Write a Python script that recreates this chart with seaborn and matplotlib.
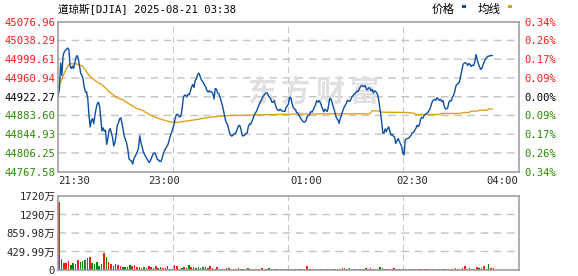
import numpy as np
import pandas as pd
import matplotlib
matplotlib.use("Agg")
import matplotlib.pyplot as plt
from matplotlib.patches import Rectangle
import seaborn as sns

# ---------------- data ----------------
title_text = "道琼斯[DJIA] 2025-08-21 03:38"
legend_labels = ["价格", "均线"]
watermark_chars = ["东", "方", "财", "富"]
prev_close = 44922.27
price_ticks = [45076.96, 45038.29, 44999.61, 44960.94, 44922.27,
               44883.60, 44844.93, 44806.25, 44767.58]
price_tick_labels = ["45076.96", "45038.29", "44999.61", "44960.94", "44922.27",
                     "44883.60", "44844.93", "44806.25", "44767.58"]
pct_labels = ["0.34%", "0.26%", "0.17%", "0.09%", "0.00%",
              "0.09%", "0.17%", "0.26%", "0.34%"]
vol_ticks = [0, 429.99, 859.98, 1290, 1720]
vol_tick_labels = ["0", "429.99万", "859.98万", "1290万", "1720万"]
time_tick_minutes = [0, 90, 210, 300, 390]
time_tick_labels = ["21:30", "23:00", "01:00", "02:30", "04:00"]
session_minutes = 390

# price, one value per minute from 21:30
price = [
    44925.67, 44939.24, 44992.16, 44966.38, 45005.73, 45014.55, 45017.94, 45019.97, 45022.69, 45019.29,
    44985.37, 44980.63, 44985.37, 44980.63, 44992.16, 45003.69, 45007.08, 45000.30, 44985.37, 44970.45,
    44966.38, 44958.24, 44941.28, 44931.78, 44932.46, 44917.53, 44883.61, 44859.87, 44873.44, 44876.83,
    44866.65, 44883.61, 44897.18, 44907.36, 44910.75, 44902.61, 44876.83, 44851.73, 44857.83, 44851.05,
    44853.09, 44823.91, 44836.13, 44853.09, 44856.48, 44846.98, 44837.48, 44820.52, 44827.99, 44842.91,
    44863.26, 44868.69, 44876.83, 44878.87, 44866.65, 44853.09, 44839.52, 44832.73, 44825.95, 44812.38,
    44793.39, 44791.35, 44789.99, 44783.21, 44793.39, 44798.81, 44803.56, 44808.99, 44817.13, 44841.55,
    44827.99, 44819.17, 44808.99, 44803.56, 44798.81, 44794.74, 44790.67, 44786.60, 44789.99, 44796.10,
    44802.21, 44806.28, 44805.60, 44799.49, 44792.03, 44792.03, 44788.64, 44788.64, 44795.42, 44804.92,
    44811.03, 44815.77, 44819.84, 44823.91, 44833.41, 44840.87, 44849.02, 44856.48, 44864.62, 44876.83,
    44884.97, 44886.33, 44882.94, 44880.22, 44883.61, 44898.54, 44920.93, 44925.67, 44925.00, 44921.60,
    44927.71, 44926.35, 44934.49, 44942.63, 44947.38, 44941.28, 44955.52, 44958.92, 44967.06, 44971.13,
    44965.70, 44958.24, 44954.17, 44950.78, 44946.03, 44941.96, 44934.49, 44931.78, 44934.49, 44931.78,
    44932.46, 44928.39, 44917.53, 44939.24, 44937.89, 44929.75, 44928.39, 44921.60, 44912.79, 44904.64,
    44893.79, 44881.58, 44870.72, 44866.65, 44859.87, 44848.34, 44842.91, 44840.87, 44842.91, 44845.62,
    44846.30, 44851.05, 44857.83, 44863.26, 44861.91, 44853.09, 44841.55, 44841.55, 44842.91, 44846.30,
    44846.98, 44859.87, 44865.98, 44865.30, 44871.40, 44876.83, 44884.29, 44888.36, 44892.43, 44898.54,
    44904.64, 44910.75, 44914.82, 44920.25, 44924.32, 44927.71, 44929.75, 44930.42, 44924.32, 44920.93,
    44918.21, 44910.75, 44910.75, 44914.14, 44905.32, 44897.86, 44894.47, 44893.79, 44896.50, 44893.79,
    44892.43, 44892.43, 44891.75, 44900.57, 44902.61, 44907.36, 44920.93, 44920.93, 44909.39, 44900.57,
    44897.18, 44895.83, 44889.04, 44889.04, 44883.61, 44879.54, 44875.47, 44872.08, 44870.05, 44870.05,
    44873.44, 44882.26, 44883.61, 44885.65, 44891.75, 44890.40, 44894.47, 44900.57, 44905.32, 44914.14,
    44911.43, 44914.14, 44910.07, 44903.97, 44897.18, 44891.08, 44896.50, 44893.79, 44891.75, 44903.97,
    44918.89, 44917.53, 44910.75, 44901.25, 44893.79, 44883.61, 44877.51, 44874.12, 44867.33, 44878.19,
    44885.65, 44892.43, 44899.22, 44903.97, 44908.04, 44914.82, 44913.46, 44912.79, 44916.86, 44922.96,
    44925.00, 44928.39, 44930.42, 44933.82, 44932.46, 44937.89, 44942.63, 44945.35, 44944.67, 44943.31,
    44945.35, 44937.89, 44936.53, 44940.60, 44939.92, 44934.49, 44937.21, 44929.75, 44934.49, 44933.14,
    44929.75, 44923.64, 44907.36, 44890.40, 44871.40, 44847.66, 44846.30, 44855.80, 44850.37, 44856.48,
    44859.87, 44851.73, 44842.91, 44844.95, 44840.87, 44838.84, 44825.95, 44830.70, 44836.13, 44830.70,
    44824.59, 44819.84, 44805.60, 44802.21, 44832.73, 44835.45, 44836.13, 44836.80, 44839.52, 44842.91,
    44848.34, 44848.34, 44853.09, 44856.48, 44863.26, 44860.55, 44864.62, 44875.47, 44879.54, 44878.19,
    44883.61, 44885.65, 44887.68, 44889.04, 44893.11, 44897.18, 44905.32, 44912.79, 44915.50, 44916.86,
    44914.82, 44920.25, 44917.53, 44914.82, 44916.86, 44912.11, 44914.14, 44903.29, 44897.18, 44897.18,
    44899.22, 44910.75, 44914.14, 44913.46, 44921.60, 44925.00, 44933.14, 44944.67, 44948.06, 44949.42,
    44953.49, 44965.02, 44977.23, 44988.77, 44991.48, 44992.16, 44990.80, 44986.73, 44990.80, 44988.77,
    44984.70, 44987.41, 44986.73, 44994.19, 45009.12, 44998.94, 44990.12, 44984.02, 44978.59, 44980.63,
    44988.77, 44994.19, 45000.30, 45003.01, 45005.73, 45005.73, 45007.08, 45007.08, 45007.08,
]

avg_minutes = [0, 4, 6.5, 9.5, 15, 20.5, 26, 32, 37.5, 43, 49, 54.5, 60, 66, 71.5, 77, 83, 88.5,
               94, 98.5, 112.5, 129.5, 146, 163, 197, 230, 264, 266, 272, 274, 295, 301, 303,
               323, 325, 341, 343, 348, 350, 355, 357, 363, 365, 368]
avg_price = [44941.28, 44965.02, 44978.59, 44990.12, 44990.12, 44985.37, 44966.38, 44954.17,
             44946.03, 44933.14, 44920.93, 44916.18, 44907.36, 44898.54, 44893.79, 44885.65,
             44878.87, 44874.80, 44870.73, 44868.69, 44873.44, 44880.22, 44883.61, 44884.29,
             44886.33, 44887.01, 44887.01, 44893.11, 44893.11, 44890.40, 44889.72, 44888.36,
             44885.65, 44885.65, 44887.68, 44887.68, 44889.72, 44889.72, 44892.43, 44892.43,
             44894.47, 44894.47, 44897.18, 44897.18]

# volume (万), every 2 minutes
volume = [
    1590, 256, 155, 155, 209, 108, 155, 132, 232, 194,
    209, 232, 271, 310, 170, 140, 178, 93, 140, 395,
    302, 194, 140, 93, 140, 116, 93, 78, 62, 78,
    108, 93, 116, 62, 78, 40, 78, 40, 93, 62,
    40, 93, 40, 62, 47, 47, 93, 31, 31, 108,
    93, 23, 47, 62, 47, 108, 62, 78, 47, 78,
    47, 62, 62, 47, 93, 40, 31, 62, 31, 23,
    23, 40, 40, 23, 23, 23, 47, 23, 23, 23,
    47, 23, 23, 23, 23, 23, 47, 23, 23, 47,
    23, 23, 23, 23, 23, 23, 23, 23, 23, 23,
    16, 23, 23, 23, 16, 93, 23, 23, 16, 16,
    23, 23, 16, 23, 23, 23, 16, 23, 16, 23,
    40, 47, 23, 47, 23, 23, 23, 23, 16, 23,
    47, 23, 40, 23, 23, 23, 70, 40, 23, 23,
    23, 23, 47, 23, 16, 23, 23, 23, 23, 23,
    16, 23, 23, 23, 16, 23, 23, 16, 23, 23,
    16, 23, 23, 16, 23, 23, 23, 23, 47, 23,
    23, 47, 93, 23, 47, 23, 23, 70, 47, 47,
    93, 23, 140, 47, 47,
]
vol_direction = list(
    "rgrrrggrrg" "gggrgggggr" "grrgrrrggg" "grrrgrgrrr" "rrggrrrggr"
    "rggrggrrgg" "gggrrrrrgg" "ggrrgrrggg" "grrrrrrrgg" "ggrgrgrrgg"
    "gggggrrrgg" "rrgrrrgggr" "rrggrrrgrr" "grrggrggrr" "rrrrggrrrr"
    "rrrrrrrrrr" "ggrgrgrrrg" "rrrggrrrgg" "rrgrr"
)

# ---------------- style ----------------
sns.set_style("white")
plt.rcParams["font.family"] = ["DejaVu Sans Mono", "Noto Sans CJK SC"]
plt.rcParams["axes.unicode_minus"] = False

RED = "#ff1a1a"
GREEN = "#2a8a00"
BLUE = "#0d4fa3"
GOLD = "#e0a21e"
GRID = "#c4c4c4"
BORDER = "#999999"
FS = 7.6
DASH = (0, (5.5, 4))
VGRID_KW = dict(color=GRID, linestyle=DASH, linewidth=0.75, zorder=2, antialiased=False)
HGRID_KW = dict(color=GRID, linestyle=DASH, linewidth=1.0, zorder=2, antialiased=True, snap=False)

fig = plt.figure(figsize=(5.78, 2.76), dpi=100)
W, H = 578, 276
L, R = 58.3, 518.5
price_rect = [L / W, 1 - 171.7 / H, (R - L) / W, (171.7 - 21.7) / H]
ax = fig.add_axes(price_rect)
axv = fig.add_axes([L / W, 1 - 270.0 / H, (R - L) / W, (270.0 - 196.0) / H])

df = pd.DataFrame({"minute": np.arange(len(price)), "price": price})
dfa = pd.DataFrame({"minute": avg_minutes, "price": avg_price})
quarter = [session_minutes * k / 4 for k in (1, 2, 3)]

# watermark (bottom layer)
for i, ch in enumerate(watermark_chars):
    ax.text((262 + 34 * i - L) / (R - L), 1 - (91.5 - 21.7) / 150, ch,
            transform=ax.transAxes, ha="center", va="center", fontsize=21,
            color="#e0e0e0", fontweight="bold", family=["Noto Sans CJK SC"],
            zorder=1.5)

ax.set_xlim(0, session_minutes)
ax.set_ylim(price_ticks[-1], price_ticks[0])
ax.vlines(quarter, price_ticks[-1], price_ticks[0], **VGRID_KW)

# horizontal grid rows on a transparent layer indexed by tick number
axg = fig.add_axes(price_rect, zorder=0.5)
axg.patch.set_visible(False)
axg.set_axis_off()
n_rows = len(price_ticks) - 1
axg.set_xlim(0, session_minutes)
axg.set_ylim(0, n_rows)
axg.hlines(list(range(1, n_rows)), 0, session_minutes, **HGRID_KW)

sns.lineplot(data=dfa, x="minute", y="price", ax=ax, color=GOLD, linewidth=1.0,
             estimator=None, sort=False, zorder=3)
sns.lineplot(data=df, x="minute", y="price", ax=ax, color=BLUE, linewidth=1.0,
             estimator=None, sort=False, zorder=4)
ax.set_xlim(0, session_minutes)
ax.set_ylim(price_ticks[-1], price_ticks[0])
ax.set_zorder(1)
ax.patch.set_visible(False)

ax.set_xlabel("")
ax.set_ylabel("")
ax.set_yticks(price_ticks)
ax.set_yticklabels(price_tick_labels)
for lbl, v in zip(ax.get_yticklabels(), price_ticks):
    lbl.set_color(RED if v > prev_close + 0.01 else (GREEN if v < prev_close - 0.01 else "black"))
ax.set_xticks(time_tick_minutes)
ax.set_xticklabels(time_tick_labels)
xl = ax.get_xticklabels()
xl[0].set_horizontalalignment("left")
xl[-1].set_horizontalalignment("right")
ax.tick_params(axis="both", which="both", length=0, labelsize=FS)
ax.tick_params(axis="y", pad=2.2)
ax.tick_params(axis="x", pad=3)
for s in ax.spines.values():
    s.set_color(BORDER)
    s.set_linewidth(1.1)
    s.set_zorder(5)

axr = ax.twinx()
axr.set_ylim(price_ticks[-1], price_ticks[0])
axr.set_yticks(price_ticks)
axr.set_yticklabels(pct_labels)
for lbl, v in zip(axr.get_yticklabels(), price_ticks):
    lbl.set_color(RED if v > prev_close + 0.01 else (GREEN if v < prev_close - 0.01 else "black"))
axr.tick_params(axis="y", length=0, labelsize=FS, pad=4)
axr.grid(False)
for s in axr.spines.values():
    s.set_visible(False)

# volume
vol_minutes = np.arange(len(volume)) * 2
bar_colors = [RED if d == "r" else "#008a00" for d in vol_direction[:len(volume)]]
axv.bar(vol_minutes, volume, width=1.3, color=bar_colors, linewidth=0, align="edge", zorder=3)
axv.set_xlim(0, session_minutes)
axv.set_ylim(0, vol_ticks[-1])
axv.hlines(vol_ticks[1:-1], 0, session_minutes, **HGRID_KW)
axv.vlines(quarter, 0, vol_ticks[-1], **VGRID_KW)
axv.set_yticks(vol_ticks)
axv.set_yticklabels(vol_tick_labels)
axv.set_xticks([])
axv.tick_params(axis="both", which="both", length=0, labelsize=FS, labelbottom=False)
axv.tick_params(axis="y", pad=2.2)
for s in axv.spines.values():
    s.set_color(BORDER)
    s.set_linewidth(1.1)
    s.set_zorder(5)

# title and legend
fig.text(58 / W, 1 - 9.5 / H, title_text, ha="left", va="center", fontsize=FS, color="black")
fig.text(455 / W, 1 - 9.5 / H, legend_labels[0], ha="right", va="center", fontsize=8.3,
         family=["Noto Sans CJK SC"], color="black")
fig.text(501 / W, 1 - 9.5 / H, legend_labels[1], ha="right", va="center", fontsize=8.3,
         family=["Noto Sans CJK SC"], color="black")
fig.add_artist(Rectangle((462 / W, 1 - 8 / H), 3.5 / W, 2.5 / H, transform=fig.transFigure,
                         color=BLUE, lw=0))
fig.add_artist(Rectangle((508 / W, 1 - 8 / H), 3.5 / W, 2.5 / H, transform=fig.transFigure,
                         color=GOLD, lw=0))

fig.savefig("out.png", dpi=100, facecolor="white")
